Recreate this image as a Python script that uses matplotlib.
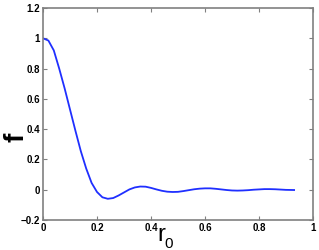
import numpy as np
import matplotlib
matplotlib.use('Agg')
import matplotlib.pyplot as plt

# values
r0 = [0.00, 0.02, 0.04, 0.06, 0.08, 0.10, 0.12, 0.14, 0.16, 0.18,
      0.20, 0.22, 0.24, 0.26, 0.28, 0.30, 0.32, 0.34, 0.36, 0.38,
      0.40, 0.42, 0.44, 0.46, 0.48, 0.50, 0.52, 0.54, 0.56, 0.58,
      0.60, 0.62, 0.64, 0.66, 0.68, 0.70, 0.72, 0.74, 0.76, 0.78,
      0.80, 0.82, 0.84, 0.86, 0.88, 0.90, 0.93]
f = [1.000, 0.985, 0.920, 0.800, 0.670, 0.530, 0.390, 0.255, 0.140, 0.045,
     -0.015, -0.050, -0.060, -0.055, -0.038, -0.018, 0.002, 0.015, 0.021, 0.020,
     0.012, 0.002, -0.007, -0.013, -0.015, -0.014, -0.009, -0.003, 0.003, 0.007,
     0.009, 0.009, 0.006, 0.002, -0.002, -0.005, -0.006, -0.005, -0.003, 0.000,
     0.002, 0.004, 0.004, 0.003, 0.001, -0.001, -0.002]

xticks = [0, 0.2, 0.4, 0.6, 0.8, 1]
xticklabels = ['0', '0.2', '0.4', '0.6', '0.8', '1']
yticks = [-0.2, 0, 0.2, 0.4, 0.6, 0.8, 1, 1.2]
yticklabels = ['\u22120.2', '0', '0.2', '0.4', '0.6', '0.8', '1', '1.2']

plt.rcParams['font.family'] = ['Liberation Sans', 'DejaVu Sans']

fig = plt.figure(figsize=(3.19, 2.5), dpi=100)
ax = fig.add_axes([43/319, 30/250, 270/319, 212/250])

ax.plot(r0, f, color='#1f2fff', lw=1.3)

ax.set_xlim(0, 1)
ax.set_ylim(-0.2, 1.2)
ax.set_xticks(xticks)
ax.set_xticklabels(xticklabels, fontweight='bold', fontsize=7)
ax.set_yticks(yticks)
ax.set_yticklabels(yticklabels, fontweight='bold', fontsize=7)
ax.tick_params(direction='in', length=3, width=0.8, color='#808080',
               top=True, right=True, pad=2)
for s in ax.spines.values():
    s.set_color('#808080')
    s.set_linewidth(1.2)

# x label: r with subscript 0, drawn as two pieces like the reference
fig.text(157/319, 9/250, 'r', fontsize=17, ha='left', va='baseline')
fig.text(164.5/319, 2/250, '0', fontsize=11, ha='left', va='baseline')
fig.text(17/319, 113/250, 'f', fontsize=20, fontweight='bold', rotation=90,
         ha='center', va='center')

fig.savefig('out.png', dpi=100)
